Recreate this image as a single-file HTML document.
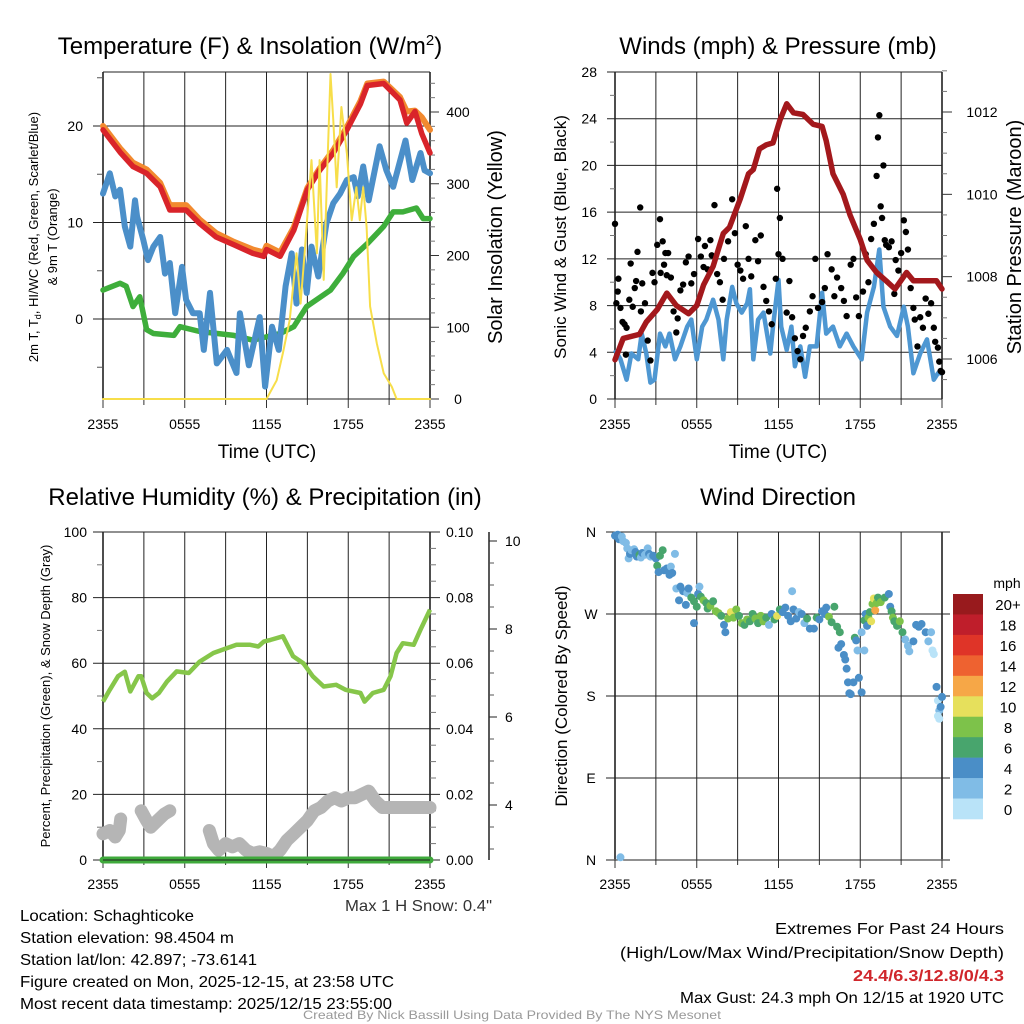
<!DOCTYPE html>
<html><head><meta charset="utf-8">
<style>
html,body{margin:0;padding:0;background:#fff;}
svg{display:block;font-family:"Liberation Sans",sans-serif;}
</style></head>
<body>
<svg id="chart" width="1024" height="1024" viewBox="0 0 1024 1024">
<rect width="1024" height="1024" fill="#fff"/>
</svg>
<script>
// ---------- DATA ----------
const timeLabels = ["2355","0555","1155","1755","2355"];
// Panel 1 temperature (hours, °F)
const tempH   = [0,1.25,2.2,3.2,4.2,4.9,6.1,7.1,8.3,9.6,11.0,11.8,12.0,13.0,14.0,15.0,15.9,16.9,17.9,18.9,19.4,20.6,21.8,22.3,22.9,23.4,24];
const tempV   = [19.6,17.3,15.8,15.1,13.7,11.3,11.3,9.9,8.5,7.7,6.8,6.5,7.2,6.5,9.2,13.4,15.4,17.2,19.6,22.3,24.2,24.4,22.7,20.3,21.5,19.2,17.2];
const t9H     = [0,1.25,2.2,3.2,4.2,4.9,6.1,7.1,8.3,9.6,11.0,11.8,12.0,13.0,14.0,15.0,15.9,16.9,17.9,18.9,19.4,20.6,21.8,22.3,22.9,23.4,24];
const t9V     = [20.0,17.7,16.2,15.5,14.1,11.8,11.8,10.3,8.9,8.0,7.2,6.9,7.6,6.9,9.5,13.6,15.6,17.5,19.9,22.6,24.4,24.6,23.0,21.5,21.6,20.9,19.6];
const dewH    = [0,.5,.9,1.25,1.6,2.0,2.35,2.5,2.96,3.3,3.7,4.2,4.55,4.9,5.3,5.8,6.1,6.6,7.1,7.4,7.85,8.35,9.1,9.8,10.05,10.7,11.5,11.9,12.4,12.9,13.4,13.85,14.2,14.6,14.95,15.3,15.8,16.4,16.9,17.4,17.9,18.4,18.7,19.1,19.5,20.3,20.8,21.3,22.2,22.7,23.3,23.6,24];
const dewV    = [13.0,15.1,12.7,13.4,9.6,7.5,12.3,10.6,8.2,6.1,7.5,8.5,4.7,5.8,0.6,5.4,2.0,0.6,0.6,-3.2,2.7,-4.6,-3.2,-5.6,0.6,-4.8,0.2,-7.0,-0.8,-3.2,3.4,6.8,1.6,7.2,2.7,7.5,4.4,9.9,12.0,13.0,14.4,14.7,12.7,15.8,12.3,17.9,15.4,13.7,18.5,14.4,17.2,15.4,15.1];
const greenH  = [0,1.25,1.7,2.2,2.7,3.2,3.7,5.2,5.65,7.1,9.6,11.0,13.0,14.0,14.95,16.7,17.6,18.4,19.4,20.6,21.3,22.0,23.0,23.5,24];
const greenV  = [3.0,3.7,3.4,1.3,2.3,-1.1,-1.5,-1.7,-0.8,-1.3,-1.7,-2.2,-1.5,-0.8,1.3,3.0,4.7,6.5,7.8,9.6,11.1,11.1,11.5,10.4,10.4];
const solarH  = [0,12.0,12.75,13.2,13.7,14.2,14.5,14.8,15.3,15.7,15.9,16.2,16.5,16.7,16.9,17.15,17.5,17.9,18.25,18.6,18.85,19.1,19.35,19.6,20.1,20.6,21.2,21.55,24];
const solarV  = [0,0,26,64,110,203,133,203,333,203,333,166,342,453,388,295,407,342,249,295,249,295,240,129,77,36,17,0,0];
const tempTicks = [0,10,20];
const solarTicks = [0,100,200,300,400];
// Panel 2 winds & pressure
const presH = [0,.6,1.8,2.3,3.1,3.8,4.5,5.4,6.0,6.5,7.2,7.95,8.4,9.2,9.8,10.15,10.6,11.1,11.6,12.1,12.6,13.1,13.8,14.55,15.2,15.5,16.0,16.75,17.25,18.0,18.5,19.2,19.9,20.55,21.4,21.9,22.9,23.6,24];
const presV = [1005.98,1006.5,1006.6,1006.9,1007.2,1007.6,1007.3,1007.1,1007.3,1007.8,1008.25,1009.05,1009.2,1009.9,1010.5,1010.6,1011.1,1011.2,1011.25,1011.8,1012.2,1011.98,1011.94,1011.7,1011.65,1011.3,1010.5,1010.0,1009.5,1008.9,1008.4,1008.1,1007.9,1007.7,1008.1,1007.9,1007.9,1007.9,1007.7];
const windH = [0,.4,.85,1.2,1.7,1.96,2.3,2.6,2.9,3.3,3.7,4.0,4.4,4.8,5.3,5.6,6.0,6.4,6.7,7.2,7.6,7.95,8.2,8.6,8.9,9.3,9.7,9.9,10.15,10.5,10.9,11.4,11.6,12.0,12.2,12.6,12.95,13.2,13.6,13.95,14.3,14.8,15.2,15.5,16.0,16.5,17.0,17.5,18.1,18.5,19.0,19.4,19.7,20.2,20.7,21.2,21.5,21.9,22.4,22.9,23.4,23.7,24];
const windV = [4.2,3.4,1.65,3.9,3.4,5.6,3.9,1.4,1.65,5.6,4.5,5.6,3.4,4.5,6.2,6.8,3.4,6.2,6.8,8.5,6.8,3.4,6.8,9.6,8.2,7.4,8.2,9.4,3.4,6.8,7.4,3.9,6.2,10.2,6.2,4.2,6.2,2.8,4.5,1.9,4.5,4.5,9.1,5.6,6.2,4.5,5.6,4.5,3.4,7.4,9.6,12.8,7.9,6.2,5.4,7.9,6.2,2.2,3.9,5.1,1.65,2.2,2.2];
const gustH = [0,0.1,0.2,0.25,0.4,0.55,0.7,0.8,0.85,1.05,1.15,1.3,1.45,1.55,1.65,1.85,1.9,2.0,2.2,2.4,2.6,2.75,2.9,3.1,3.3,3.35,3.5,3.6,3.7,3.8,3.9,4.1,4.3,4.5,4.6,4.8,5.0,5.2,5.4,5.6,5.8,6.1,6.3,6.5,6.6,6.8,7.0,7.1,7.3,7.5,7.7,7.9,8.0,8.3,8.6,8.8,9.0,9.2,9.4,9.6,9.8,10.0,10.3,10.5,10.7,10.9,11.1,11.3,11.5,11.8,11.9,12.0,12.1,12.3,12.6,12.8,13.0,13.2,13.4,13.6,13.8,14.0,14.3,14.5,14.7,14.9,15.2,15.4,15.6,15.9,16.1,16.3,16.6,16.8,17.0,17.3,17.5,17.7,17.9,18.2,18.4,18.6,18.8,19.0,19.2,19.3,19.4,19.5,19.6,19.7,19.8,19.9,20.1,20.3,20.5,20.6,20.8,21.0,21.2,21.35,21.5,21.7,21.9,22.0,22.2,22.4,22.6,22.8,23.0,23.2,23.4,23.5,23.7,23.8,23.9,24];
const gustV = [15.0,8.2,9.2,10.3,7.8,6.6,6.4,3.8,6.1,8.5,11.6,7.9,9.5,10.1,12.6,16.4,7.5,9.9,8.2,5.0,3.3,10.8,10.0,13.2,15.4,10.8,13.5,11.5,12.5,10.6,12.5,10.4,7.5,5.7,6.9,9.3,9.8,11.7,12.2,9.9,10.7,13.7,12.2,11.3,13.1,11.1,13.6,12.3,16.6,10.7,10.0,8.5,12.0,13.5,17.1,14.2,11.5,11.0,10.3,14.8,12.0,10.5,13.6,11.8,14.0,9.6,8.4,7.5,6.4,10.3,18.0,12.4,15.5,12.0,7.4,10.1,7.0,5.2,4.1,3.4,5.4,6.1,7.5,8.8,12.0,7.8,8.3,9.5,12.4,11.1,8.8,10.4,9.5,8.4,7.1,11.5,12.0,8.7,7.1,9.2,12.4,10.0,13.7,15.0,19.1,22.4,24.3,16.5,15.5,20.0,13.6,13.2,13.0,13.5,9.0,11.9,11.0,12.5,15.3,14.3,12.8,9.5,7.8,6.8,4.5,7.0,6.1,8.6,7.3,8.2,6.1,4.9,4.4,3.2,2.4,2.3];
const windTicks = [0,4,8,12,16,20,24,28];
const presTicks = [1006,1008,1010,1012];
// Panel 3 RH / precip / snow
const rhH = [0,.5,1.1,1.6,2.0,2.6,2.8,3.2,3.6,4.1,4.7,5.4,6.3,7.1,8.1,9.1,9.8,10.8,11.4,11.8,12.3,13.2,13.95,14.7,15.4,16.2,17.1,17.8,18.9,19.2,19.8,20.6,21.1,21.55,22.0,22.8,23.3,24];
const rhV = [48.3,51.9,56.0,57.4,51.4,56.0,56.0,50.9,49.3,50.9,54.4,57.5,57.0,60.5,63.1,64.6,65.6,65.6,65.1,66.6,67.1,68.2,62.1,60.0,56.0,52.9,53.4,51.9,50.9,48.3,50.9,51.9,56.0,63.1,66.1,65.6,70.2,76.3];
const precipH = [0,24];
const precipV = [0,0];
const snowSeg1H = [0,0.5,0.9,1.2,1.3];
const snowSeg1V = [8,9,7,9,12.5];
const snowSeg2H = [2.8,3.2,3.5,4.0,4.5,4.9];
const snowSeg2V = [15,12,10,12,14,15];
const snowSeg3H = [7.8,8.1,8.5,9.0,9.5,10.0,10.5,11.0,11.5,12.0,12.5,13.0,13.5,14.0,14.5,15.0,15.5,16.0,16.5,17.0,17.5,18.0,18.5,19.0,19.5,20.0,20.5,21,22,23,24];
const snowSeg3V = [9,5,3,5,4,5,3,2,2.5,2,1,3,6,8,10,12,15,16,18,19,18,19,19,20,21,18,16,16,16,16,16];
const rhTicks = [0,20,40,60,80,100];
const precipTicks = ["0.00","0.02","0.04","0.06","0.08","0.10"];
const snowTicks = [4,6,8,10];
// Panel 4 wind direction
const dirH = [0,0.2,0.3,0.5,0.6,0.8,0.9,1.0,1.1,1.2,1.4,1.5,1.6,1.8,1.9,2.0,2.2,2.4,2.5,2.6,2.8,3.0,3.1,3.2,3.3,3.5,3.6,3.8,4.0,4.1,4.2,4.4,4.5,4.7,4.8,5.0,5.2,5.3,5.4,5.6,5.8,6.0,6.1,6.2,6.3,6.5,6.7,6.8,7.0,7.2,7.4,7.6,7.8,8.0,8.1,8.3,8.5,8.7,8.9,9.1,9.3,9.5,9.7,9.9,10.1,10.3,10.5,10.7,10.9,11.1,11.3,11.5,11.7,11.9,12.1,12.3,12.5,12.7,12.9,13.1,13.3,13.5,13.7,13.9,14.1,14.3,14.6,14.8,15.0,15.2,15.4,15.5,15.7,15.9,16.1,16.3,16.5,16.6,16.8,16.9,17.0,17.1,17.3,17.5,17.6,17.7,17.8,17.9,18.1,18.1,18.3,18.4,18.5,18.6,18.7,18.8,18.9,19.0,19.1,19.2,19.3,19.5,19.8,20.1,20.2,20.3,20.4,20.5,20.7,20.9,21.1,21.3,21.5,21.6,21.9,22.1,22.3,22.5,22.8,23.0,23.2,23.3,23.4,23.6,23.7,23.8,23.9,23.7,23.8,24,0.4,18.3,17.2,5.8,16.4,13.0];
const dirV = [356,357,352,355,350,348,342,331,336,340,341,338,333,335,332,337,335,342,336,333,334,331,323,316,334,340,318,320,313,322,315,336,298,285,300,295,280,293,298,288,284,278,292,300,289,285,282,276,279,284,273,271,268,258,250,265,272,266,275,268,260,258,264,262,270,265,260,268,262,266,258,270,264,268,275,272,277,268,262,275,265,272,270,260,265,254,254,266,264,273,270,277,267,261,278,256,250,237,225,220,210,195,182,195,244,241,230,200,184,250,263,270,257,266,272,262,281,287,274,282,288,283,288,292,278,273,266,262,257,262,250,242,235,229,240,258,256,259,250,240,250,230,226,190,175,164,168,158,155,179,3,230,183,260,233,295];
const dirS = [4,4,4,2,2,2,2,2,4,2,2,4,4,5,2,4,2,2,4,2,4,4,6,4,6,5,4,4,4,2,4,2,2,4,4,4,4,2,4,6,6,6,4,2,6,7,6,6,7,6,8,8,6,4,4,7,10,8,8,6,7,6,8,6,6,8,6,8,7,6,2,4,6,10,6,4,4,4,4,4,4,2,4,2,6,4,4,6,4,4,4,4,8,6,6,6,6,4,4,4,4,4,4,4,6,4,2,4,4,2,6,4,4,8,6,10,8,10,12,7,6,8,6,4,4,6,8,6,6,7,6,2,2,2,4,4,4,4,4,2,2,0,0,4,0,2,4,0,0,4,2,2,4,4,4,2];
const dirLabels = ["N","W","S","E","N"];
const dirTicks = [360,270,180,90,0];
const cbLabels = ["20+","18","16","14","12","10","8","6","4","2","0"];
const cbColors = ["#981a1d","#bf1e2b","#df3428","#ee6230","#f6a747","#e6e05c","#7dc24a","#48a56d","#4a8ec7","#80bce6","#b9e3f8"];

// ---------- helpers ----------
const NS="http://www.w3.org/2000/svg";
const svg=document.getElementById('chart');
function mk(tag,attrs,parent){const e=document.createElementNS(NS,tag);for(const k in attrs)e.setAttribute(k,attrs[k]);(parent||svg).appendChild(e);return e;}
function txt(s,x,y,size,anchor,extra,parent){const e=mk('text',Object.assign({x:x,y:y,'font-size':size,'text-anchor':anchor||'middle',fill:'#000'},extra||{}),parent);e.textContent=s;return e;}
function polyPts(hs,vs,fx,fy){return hs.map((h,i)=>fx(h).toFixed(1)+','+fy(vs[i]).toFixed(1)).join(' ');}

const W=327, H=327;
function xs(x0){return h=>x0+h*W/24;}
function lin(v0,y0,v1,y1){return v=>y0+(v-v0)*(y1-y0)/(v1-v0);}

function frame(g,x0,y0){
  for(let i=0;i<=8;i++){const x=x0+i*W/8;
    const l=mk('line',{x1:x,y1:y0,x2:x,y2:y0+H,stroke:'#222','stroke-width':i==0||i==8?1.6:1},g);
    
    
    mk('line',{x1:x,y1:y0+H,x2:x,y2:y0+H+(i%2==0?9:6),stroke:'#333','stroke-width':1},g);
  }
  for(let i=0;i<5;i++){const t=txt(timeLabels[i],x0+i*W/4,y0+H+30,14,'middle',{},g);
    
    }
}
function hline(g,x1,x2,y){mk('line',{x1:x1,y1:y,x2:x2,y2:y,stroke:'#222','stroke-width':1},g);}

// ---------- Panel 1 ----------
(function(){
 const g=mk('g',{});  
 const x0=103,y0=72, fx=xs(x0);
 const fy=lin(0,319,20,126), fs=lin(0,399,400,112);
 frame(g,x0,y0);
 mk('line',{x1:x0,y1:y0,x2:x0+W,y2:y0,stroke:'#222','stroke-width':1},g);
 mk('line',{x1:x0,y1:y0+H,x2:x0+W,y2:y0+H,stroke:'#222','stroke-width':1},g);
 tempTicks.forEach(v=>{const y=fy(v);hline(g,x0-10,x0+W,y);const t=txt(String(v),x0-20,y+5,14,'end',{},g);
   });
 [-5,5,15,25].forEach(v=>mk('line',{x1:x0-6,y1:fy(v),x2:x0,y2:fy(v),stroke:'#555'},g));
 solarTicks.forEach(v=>{const y=fs(v);mk('line',{x1:x0+W,y1:y,x2:x0+W+9,y2:y,stroke:'#333'},g);const t=txt(String(v),x0+W+28,y+5,14,'middle',{},g);
   });
 for(let v=20;v<460;v+=20){if(v%100)mk('line',{x1:x0+W,y1:fs(v),x2:x0+W+5,y2:fs(v),stroke:'#777'},g);}
 const series=[[greenH,greenV,'#3eae3b',5.5,fy,'td-line-green'],[dewH,dewV,'#4b8fc9',6,fy,'windchill-line-blue'],[t9H,t9V,'#f28a2f',6,fy,'temp-9m-line-orange'],[tempH,tempV,'#d9242a',5.5,fy,'temp-2m-line-red'],[solarH,solarV,'#f7de4a',2,fs,'solar-insolation-line']];
 series.forEach(s=>{const p=mk('polyline',{points:polyPts(s[0],s[1],fx,s[4]),fill:'none',stroke:s[2],'stroke-width':s[3],'stroke-linejoin':'round','stroke-linecap':'round'},g);
   });
 const t=txt('Temperature (F) & Insolation (W/m',250,54,24,'middle',{},g);
 const sup=mk('tspan',{dy:-9,'font-size':15},t); sup.textContent='2';
 const cl=mk('tspan',{dy:9},t); cl.textContent=')';
 
 const y1=txt('2m T, T',38,237,13,'middle',{transform:'rotate(-90 38 237)'},g);
 const sb=mk('tspan',{dy:3,'font-size':9},y1); sb.textContent='d';
 const r1=mk('tspan',{dy:-3},y1); r1.textContent=', HI/WC (Red, Green, Scarlet/Blue)';
 
 const y2=txt('& 9m T (Orange)',57,237,13,'middle',{transform:'rotate(-90 57 237)'},g);
 
 const yr=txt('Solar Insolation (Yellow)',502,237,20,'middle',{transform:'rotate(-90 502 237)'},g);
 
 const xt=txt('Time (UTC)',267,458,19,'middle',{},g);
 
})();

// ---------- Panel 2 ----------
(function(){
 const g=mk('g',{});  
 const x0=615,y0=72, fx=xs(x0);
 const fy=lin(0,399,28,72), fp=lin(1006,359,1012,112);
 frame(g,x0,y0);
 windTicks.forEach(v=>{const y=fy(v);hline(g,x0-8,x0+W,y);const t=txt(String(v),x0-18,y+5,14,'end',{},g);
   });
 for(let v=2;v<28;v+=4)mk('line',{x1:x0-5,y1:fy(v),x2:x0,y2:fy(v),stroke:'#777'},g);
 presTicks.forEach(v=>{const y=fp(v);mk('line',{x1:x0+W,y1:y,x2:x0+W+10,y2:y,stroke:'#333'},g);const t=txt(String(v),x0+W+40,y+5,14,'middle',{},g);
   });
 for(let v=1005.5;v<1013.5;v+=0.5){if(v%2)mk('line',{x1:x0+W,y1:fp(v),x2:x0+W+5,y2:fp(v),stroke:'#777'},g);}
 const wl=mk('polyline',{points:polyPts(windH,windV,fx,fy),fill:'none',stroke:'#4e97d2','stroke-width':4.5,'stroke-linejoin':'round'},g);
 
 gustH.forEach((h,i)=>{const c=mk('circle',{cx:fx(h),cy:fy(gustV[i]),r:3.2,fill:'#000'},g);
   });
 const pl=mk('polyline',{points:polyPts(presH,presV,fx,fp),fill:'none',stroke:'#a3181c','stroke-width':5.5,'stroke-linejoin':'round','stroke-linecap':'round'},g);
 
 const t=txt('Winds (mph) & Pressure (mb)',778,54,24,'middle',{},g);
 
 const yl=txt('Sonic Wind & Gust (Blue, Black)',566,237,17,'middle',{transform:'rotate(-90 566 237)'},g);
 
 const yr=txt('Station Pressure (Maroon)',1021,237,20,'middle',{transform:'rotate(-90 1021 237)'},g);
 
 const xt=txt('Time (UTC)',778,458,19,'middle',{},g);
 
})();

// ---------- Panel 3 ----------
(function(){
 const g=mk('g',{});  
 const x0=103,y0=532, fx=xs(x0);
 const fy=lin(0,860,100,532);
 frame(g,x0,y0);
 rhTicks.forEach((v,i)=>{const y=fy(v);hline(g,x0-10,x0+W+10,y);const t=txt(String(v),x0-16,y+5,14,'end',{},g);
   
   const t2=txt(precipTicks[i],x0+W+16,y+5,14,'start',{},g);
   });
 for(let v=10;v<100;v+=20){mk('line',{x1:x0-6,y1:fy(v),x2:x0,y2:fy(v),stroke:'#777'},g);}
 for(let v=5;v<100;v+=5){if(v%20)mk('line',{x1:x0+W,y1:fy(v),x2:x0+W+6,y2:fy(v),stroke:'#777'},g);}
 mk('line',{x1:489,y1:532,x2:489,y2:860,stroke:'#222','stroke-width':1.5},g);
 const fsn=lin(4,805,10,541);
 snowTicks.forEach(v=>{const y=fsn(v);mk('line',{x1:489,y1:y,x2:497,y2:y,stroke:'#222'},g);const t=txt(String(v),505,y+5,14,'start',{},g);
   });
 for(let v=3;v<=11;v+=0.5){const y=fsn(v);if(y>532&&y<860&&v%2)mk('line',{x1:489,y1:y,x2:494,y2:y,stroke:'#555'},g);}
 const rl=mk('polyline',{points:polyPts(rhH,rhV,fx,fy),fill:'none',stroke:'#86c64a','stroke-width':4.5,'stroke-linejoin':'round'},g);
 
 [[snowSeg1H,snowSeg1V],[snowSeg2H,snowSeg2V],[snowSeg3H,snowSeg3V]].forEach(s=>{
   const p=mk('polyline',{points:polyPts(s[0],s[1],fx,fy),fill:'none',stroke:'#b5b5b5','stroke-width':13,'stroke-linejoin':'round','stroke-linecap':'round'},g);
   });
 const fpp=lin(0,860,0.1,532);
 const pr=mk('polyline',{points:polyPts(precipH,precipV,fx,fpp),fill:'none',stroke:'#3faa3c','stroke-width':7,'stroke-linecap':'round'},g);
 
 hline(g,x0,x0+W,860);
 const t=txt('Relative Humidity (%) & Precipitation (in)',265,505,24,'middle',{},g);
 
 const yl=txt('Percent, Precipitation (Green), & Snow Depth (Gray)',50,696,13,'middle',{transform:'rotate(-90 50 696)'},g);
 
})();

// ---------- Panel 4 ----------
(function(){
 const g=mk('g',{});  
 const x0=615,y0=532, fx=xs(x0);
 const fy=lin(0,860,360,532);
 frame(g,x0,y0);
 dirTicks.forEach((v,i)=>{const y=fy(v);hline(g,x0-9,x0+W+8,y);const t=txt(dirLabels[i],x0-24,y+5,14,'middle',{},g);
   });
 function col(s){return cbColors[10-Math.min(10,Math.floor((s+1)/2))];}
 dirH.forEach((h,i)=>{const c=mk('circle',{cx:fx(h),cy:fy(dirV[i]),r:4,fill:col(dirS[i])},g);
   });
 const cb=mk('g',{},g);  
 const bh=225/11;
 cbColors.forEach((c,i)=>{mk('rect',{x:953,y:594+i*bh,width:30,height:bh+0.3,fill:c},cb);
   const t=txt(cbLabels[i],1008,594+i*bh+bh/2+6,15,'middle',{},cb);
   });
 const mt=txt('mph',1007,588,14,'middle',{},cb);
 
 const t=txt('Wind Direction',778,505,24,'middle',{},g);
 
 const yl=txt('Direction (Colored By Speed)',567,696,17,'middle',{transform:'rotate(-90 567 696)'},g);
 
})();

// ---------- footer ----------
(function(){
 const g=mk('g',{});  
 const F='"Liberation Sans Narrow","Liberation Sans",sans-serif';
 const rows=[["Location: Schaghticoke",20,921,174,'start','#000','normal'],
  ["Station elevation: 98.4504 m",20,943,214,'start','#000','normal'],
  ["Station lat/lon: 42.897; -73.6141",20,965,237,'start','#000','normal'],
  ["Figure created on Mon, 2025-12-15, at 23:58 UTC",20,987,374,'start','#000','normal'],
  ["Most recent data timestamp: 2025/12/15 23:55:00",20,1009,372,'start','#000','normal'],
  ["Max 1 H Snow: 0.4\"",345,911,147,'start','#333','normal'],
  ["Extremes For Past 24 Hours",775,934,229,'start','#000','normal'],
  ["(High/Low/Max Wind/Precipitation/Snow Depth)",620,958,384,'start','#000','normal'],
  ["24.4/6.3/12.8/0/4.3",853,981,151,'start','#d0262b','bold'],
  ["Max Gust: 24.3 mph On 12/15 at 1920 UTC",680,1003,324,'start','#000','normal']];
 rows.forEach(r=>{const t=txt(r[0],r[1],r[2],16,r[4],{fill:r[5],'font-weight':r[6],textLength:r[3],lengthAdjust:'spacingAndGlyphs','font-family':F},g);
   });
 const c=txt('Created By Nick Bassill Using Data Provided By The NYS Mesonet',303,1019,12,'start',{fill:'#999',textLength:418,lengthAdjust:'spacingAndGlyphs','font-family':F},g);
 
})();
</script>
</body></html>
